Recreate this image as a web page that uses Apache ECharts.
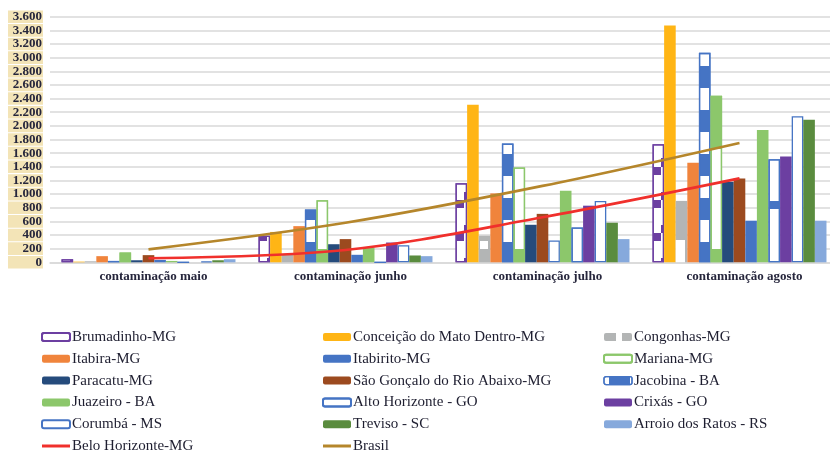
<!DOCTYPE html>
<html>
<head>
<meta charset="utf-8">
<script src="https://cdn.jsdelivr.net/npm/echarts@6/dist/echarts.min.js"></script>
<style>
  html, body { margin: 0; padding: 0; background: #ffffff; overflow: hidden; }
  #chart { width: 838px; height: 450px; }
</style>
</head>
<body>
<div id="chart"></div>
<script>
// Categories and tick labels
const months = ['contaminação maio', 'contaminação junho', 'contaminação julho', 'contaminação agosto'];
const yTickLabels = ['0', '200', '400', '600', '800', '1.000', '1.200', '1.400', '1.600', '1.800',
  '2.000', '2.200', '2.400', '2.600', '2.800', '3.000', '3.200', '3.400', '3.600'];

// Values per municipality (maio, junho, julho, agosto)
const brumadinho = [45, 390, 1160, 1730];
const conceicao = [10, 445, 2310, 3470];
const congonhas = [15, 120, 390, 900];
const itabira = [90, 530, 1010, 1460];
const itabirito = [20, 775, 1740, 3070];
const mariana = [145, 910, 1390, 2440];
const paracatu = [30, 265, 550, 1180];
const saoGoncalo = [105, 340, 710, 1230];
const jacobina = [35, 110, 320, 610];
const juazeiro = [20, 215, 1050, 1940];
const altoHorizonte = [0, 0, 510, 1510];
const crixas = [0, 290, 830, 1550];
const corumba = [15, 250, 900, 2140];
const treviso = [30, 100, 580, 2090];
const arroio = [45, 90, 340, 610];
const beloHorizonte = [60, 180, 660, 1230];
const brasil = [190, 580, 1120, 1750];

// Colours
const PURPLE = '#6c3fa1', GOLD = '#ffb515', GREY = '#b3b5b5', ORANGE = '#f0843c',
  BLUE = '#4574c4', GREEN = '#8cc76b', NAVY = '#254b7c', BROWN = '#9c4a1f',
  DKGREEN = '#5a8c3e', LTBLUE = '#86a9dc', RED = '#f0302c', GOLDLINE = '#b5862b', WHITE = '#ffffff';

// Fill patterns (decals)
function pattern(color, dashX, dashY) {
  return { symbol: 'rect', symbolSize: 1, symbolKeepAspect: false, color: color,
    dashArrayX: dashX, dashArrayY: dashY, rotation: 0, maxTileWidth: 512, maxTileHeight: 512 };
}
const clearDecal = pattern('rgba(0,0,0,0)', [[10, 0]], [10, 0]);
const decalBrumadinho = pattern(PURPLE, [[0, 61, 9, 127], [0, 70, 4, 123]], [8, 17, 8, 0, 8, 17, 9, 0, 8, 17, 8, 0]);
const decalCongonhas = pattern(WHITE, [[0, 86, 8, 103]], [0, 241, 8, 200]);
const decalCongonhasLow = pattern(WHITE, [[0, 84, 10, 103]], [0, 240, 23, 186]);
const decalItabirito = pattern(BLUE, [[10, 0]], [0, 22, 22, 0]);
const decalMariana = pattern(GREEN, [[10, 0]], [0, 96, 53, 100, 14, 200]);
const decalAlto = pattern(BLUE, [[10, 0]], [0, 201, 8, 240]);

const hollow = (border) => ({ color: WHITE, borderColor: border, borderWidth: 1.3 });

function bar(name, values, itemStyle, overrides) {
  return {
    name: name, type: 'bar', barGap: '0%', barCategoryGap: '11.7%',
    itemStyle: itemStyle,
    emphasis: { disabled: true },
    data: values.map((v, i) => (overrides && overrides[i]) ? { value: v, itemStyle: overrides[i] } : v)
  };
}
function line(name, values, color) {
  return {
    name: name, type: 'line', data: values, smooth: 0.35, symbol: 'none',
    lineStyle: { color: color, width: 2.6 }, itemStyle: { color: color },
    emphasis: { disabled: true }, z: 5
  };
}

const series = [
  bar('Brumadinho-MG', brumadinho, Object.assign(hollow(PURPLE), { decal: decalBrumadinho })),
  bar('Conceição do Mato Dentro-MG', conceicao, { color: GOLD }),
  bar('Congonhas-MG', congonhas, { color: GREY, decal: decalCongonhas },
    { 3: { color: GREY, decal: decalCongonhasLow } }),
  bar('Itabira-MG', itabira, { color: ORANGE }),
  bar('Itabirito-MG', itabirito, Object.assign(hollow(BLUE), { decal: decalItabirito })),
  bar('Mariana-MG', mariana, Object.assign(hollow(GREEN), { decal: decalMariana })),
  bar('Paracatu-MG', paracatu, { color: NAVY }),
  bar('São Gonçalo do Rio Abaixo-MG', saoGoncalo, { color: BROWN }),
  bar('Jacobina - BA', jacobina, { color: BLUE }, { 2: hollow(BLUE) }),
  bar('Juazeiro - BA', juazeiro, { color: GREEN }),
  bar('Alto Horizonte - GO', altoHorizonte, Object.assign(hollow(BLUE), { decal: decalAlto })),
  bar('Crixás - GO', crixas, { color: PURPLE }),
  bar('Corumbá - MS', corumba, hollow(BLUE)),
  bar('Treviso - SC', treviso, { color: DKGREEN }),
  bar('Arroio dos Ratos - RS', arroio, { color: LTBLUE }),
  line('Belo Horizonte-MG', beloHorizonte, RED),
  line('Brasil', brasil, GOLDLINE)
];

const lineIcon = 'path://M0,0H28V3H0Z';
const legendText = { fontFamily: 'Liberation Serif', fontSize: 15, color: '#1e1e30', lineHeight: 16,
  padding: [0, 0, 0, -3] };
function legendCol(left, items) {
  return {
    orient: 'vertical', left: left, top: 329, height: 160, padding: 0,
    itemWidth: 28, itemHeight: 8, itemGap: 5.8,
    textStyle: legendText, selectedMode: false, data: items
  };
}

const option = {
  animation: false,
  backgroundColor: WHITE,
  grid: { left: 50, right: 0, top: 16.7, bottom: 187.7, containLabel: false },
  xAxis: {
    type: 'category', data: months,
    axisLine: { show: true, lineStyle: { color: '#d9d9d9', width: 1.5 } },
    axisTick: { show: false },
    axisLabel: { fontFamily: 'Liberation Serif', fontWeight: 'bold', fontSize: 13, color: '#26263c',
      margin: 8, padding: [0, 0, 0, 10] }
  },
  yAxis: {
    type: 'value', min: 0, max: 3600, interval: 200,
    axisLine: { show: false }, axisTick: { show: false },
    splitLine: { lineStyle: { color: '#d9d9d9', width: 1.5 } },
    axisLabel: {
      formatter: (v) => yTickLabels[Math.round(v / 200)],
      showMinLabel: true, showMaxLabel: true, hideOverlap: false,
      fontFamily: 'Liberation Serif', fontWeight: 'bold', fontSize: 13, color: '#26263c',
      backgroundColor: '#f3e4b7', width: 34, height: 12.6, lineHeight: 12.6,
      padding: [0, 1, 0, 0], margin: 7, align: 'right'
    }
  },
  legend: [
    legendCol(41, [
      { name: 'Brumadinho-MG', itemStyle: { decal: clearDecal } },
      'Itabira-MG', 'Paracatu-MG', 'Juazeiro - BA', 'Corumbá - MS',
      { name: 'Belo Horizonte-MG', icon: lineIcon }
    ]),
    legendCol(322, [
      'Conceição do Mato Dentro-MG',
      { name: 'Itabirito-MG', itemStyle: { color: BLUE, borderWidth: 0, decal: clearDecal } },
      'São Gonçalo do Rio Abaixo-MG',
      { name: 'Alto Horizonte - GO', itemStyle: { decal: clearDecal } },
      'Treviso - SC',
      { name: 'Brasil', icon: lineIcon }
    ]),
    legendCol(603, [
      { name: 'Congonhas-MG', itemStyle: { decal: pattern(WHITE, [[0, 12, 6, 10]], [10, 0]) } },
      { name: 'Mariana-MG', itemStyle: { decal: clearDecal } },
      { name: 'Jacobina - BA', itemStyle: { color: WHITE, borderColor: BLUE, borderWidth: 1.3,
        decal: pattern(BLUE, [[0, 5, 21, 2]], [10, 0]) } },
      'Crixás - GO', 'Arroio dos Ratos - RS'
    ])
  ],
  series: series
};

const chart = echarts.init(document.getElementById('chart'), null, { renderer: 'canvas' });
chart.setOption(option);
</script>
</body>
</html>
